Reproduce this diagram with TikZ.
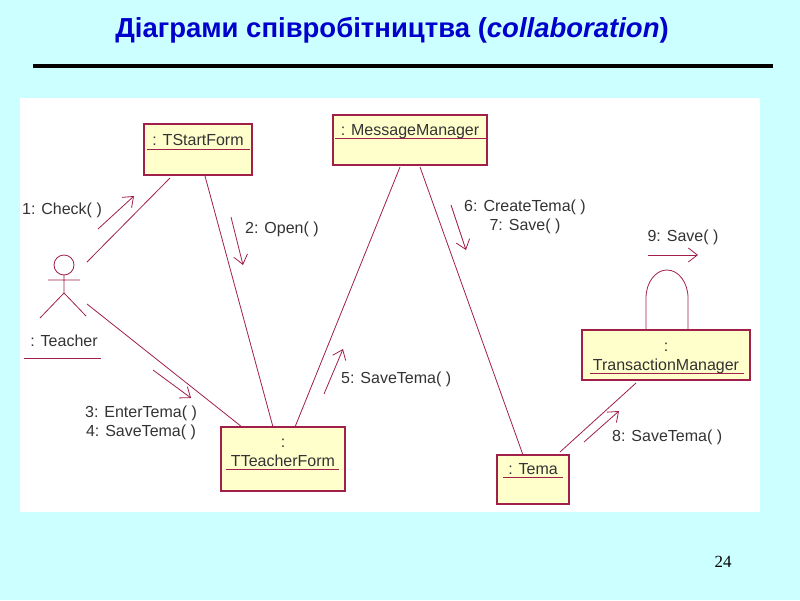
\documentclass[tikz,border=0pt]{standalone}
\usepackage{fontspec}
\setmainfont{Liberation Sans}
\newfontfamily\pgfont{Liberation Serif}
\usetikzlibrary{arrows.meta}
\definecolor{bg}{HTML}{CCFFFF}
\definecolor{umlred}{HTML}{A0204A}
\definecolor{boxfill}{HTML}{FFFFCC}
\definecolor{ttl}{HTML}{0000CC}
\tikzset{
 obj/.style={draw=umlred,fill=boxfill,line width=1.2pt,minimum width=#1,inner sep=0},
 link/.style={umlred,line width=0.8pt},
 msg/.style={umlred,line width=0.8pt,-{Straight Barb[length=9pt,width=14pt]}},
 lbl/.style={font=\fontsize{16}{18.5}\selectfont,text=black!80,inner sep=1pt,align=center},
 uline/.style={umlred,line width=1pt}
}
\begin{document}
\begin{tikzpicture}[x=1pt,y=-1pt]
\useasboundingbox (0,0) rectangle (800,600);
\fill[bg] (0,0) rectangle (800,600);
\node[font=\fontsize{27.5}{30}\selectfont\bfseries,text=ttl] (title) at (392,30) {Діаграми співробітництва (\textit{collaboration})};
\draw[line width=3.5pt] (33,66) -- (773,66);
\fill[white] (20,98) rectangle (760,512);
\node[font=\fontsize{17}{20}\selectfont\pgfont] (pg) at (723,562) {24};
% boxes
\draw[obj=0] (144,124) rectangle (252,175); \draw[uline] (147,149) -- (250,149);
\node[lbl,anchor=base] (tsf) at (198,145) {: TStartForm};
\draw[obj=0] (333,115) rectangle (487,165); \draw[uline] (335,138) -- (486,138);
\node[lbl,anchor=base] (mm) at (410,135) {: MessageManager};
\draw[obj=0] (221,427) rectangle (345,491); \draw[uline] (226,469) -- (339,469);
\node[lbl,anchor=base] (ttfc) at (283,447) {:};
\node[lbl,anchor=base] (ttf) at (283,466) {TTeacherForm};
\draw[obj=0] (497,455) rectangle (569,504); \draw[uline] (503,477) -- (563,477);
\node[lbl,anchor=base] (tema) at (533,474) {: Tema};
\draw[obj=0] (582,330) rectangle (750,380); \draw[uline] (590,373) -- (744,373);
\node[lbl,anchor=base] (tmc) at (666,351) {:};
\node[lbl,anchor=base] (tm) at (666,370) {TransactionManager};
% actor
\draw[link] (64,265) circle (10);
\draw[link] (64,275) -- (64,293) -- (40,318) (64,293) -- (86,316) (48,280) -- (80,280);
\node[lbl,anchor=base] (teacher) at (64,346) {: Teacher};
\draw[uline] (24,358) -- (101,358);
% links
\coordinate (a1) at (87,262); \coordinate (b1) at (170,178);
\coordinate (a2) at (205,176); \coordinate (b2) at (273,427);
\coordinate (a3) at (87,304); \coordinate (b3) at (242,427);
\coordinate (a4) at (295,427); \coordinate (b4) at (400,167);
\coordinate (a5) at (420,167); \coordinate (b5) at (523,455);
\coordinate (a6) at (560,452); \coordinate (b6) at (636,383);
\draw[link] (a1) -- (b1); \draw[link] (a2) -- (b2); \draw[link] (a3) -- (b3);
\draw[link] (a4) -- (b4); \draw[link] (a5) -- (b5); \draw[link] (a6) -- (b6);
\draw[link] (646,330) -- (646,298) arc[start angle=180,end angle=0,x radius=21,y radius=-28] -- (688,330);
% messages
\coordinate (m1a) at (98,229); \coordinate (m1b) at (134,196);
\coordinate (m2a) at (231,217); \coordinate (m2b) at (243,265);
\coordinate (m3a) at (153,370); \coordinate (m3b) at (191,398);
\coordinate (m5a) at (324,394); \coordinate (m5b) at (343,349);
\coordinate (m6a) at (451,205); \coordinate (m6b) at (466,250);
\coordinate (m8a) at (584,442); \coordinate (m8b) at (619,411);
\coordinate (m9a) at (648,255); \coordinate (m9b) at (698,255);
\draw[msg] (m1a) -- (m1b); \draw[msg] (m2a) -- (m2b); \draw[msg] (m3a) -- (m3b);
\draw[msg] (m5a) -- (m5b); \draw[msg] (m6a) -- (m6b); \draw[msg] (m8a) -- (m8b);
\draw[msg] (m9a) -- (m9b);
\node[lbl] (l1) at (62,210) {1: Check( )};
\node[lbl,anchor=west] (l2) at (244,229) {2: Open( )};
\node[lbl] (l3) at (141,423) {3: EnterTema( )\\4: SaveTema( )};
\node[lbl,anchor=west] (l5) at (340,379) {5: SaveTema( )};
\node[lbl] (l6) at (525,217) {6: CreateTema( )\\7: Save( )};
\node[lbl,anchor=west] (l8) at (611,437) {8: SaveTema( )};
\node[lbl] (l9) at (683,237) {9: Save( )};
\end{tikzpicture}
\end{document}
